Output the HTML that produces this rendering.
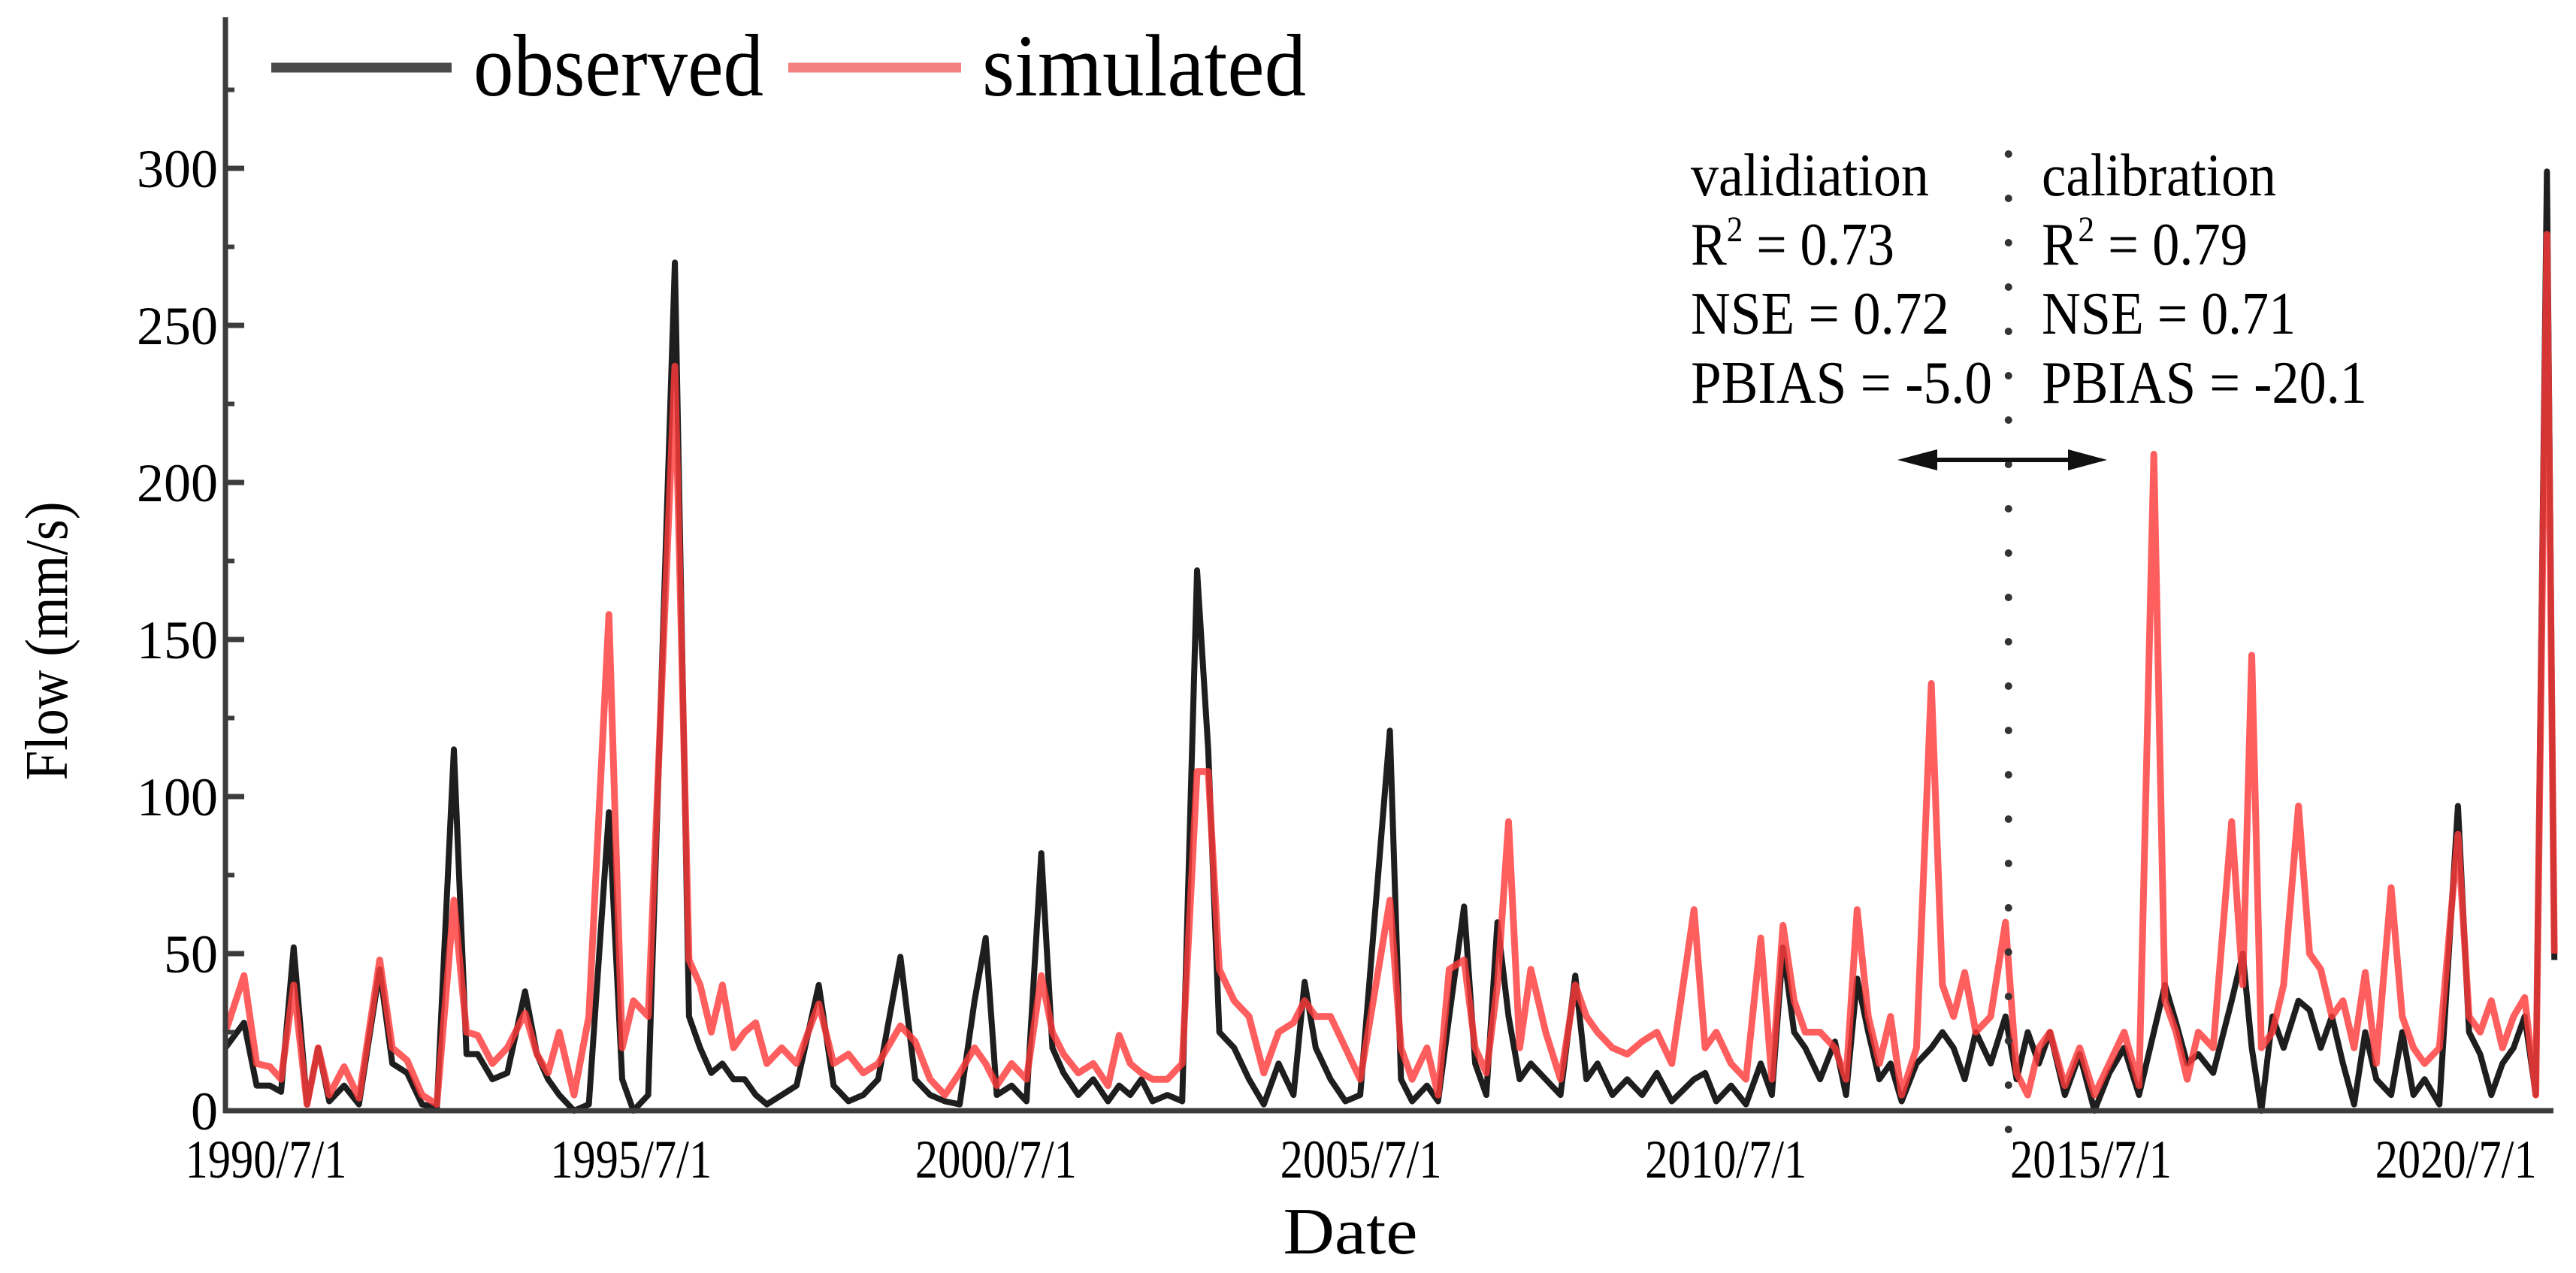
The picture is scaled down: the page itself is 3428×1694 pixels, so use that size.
<!DOCTYPE html>
<html>
<head>
<meta charset="utf-8">
<style>
  html,body{margin:0;padding:0;background:#fff;}
  svg{display:block;}
  text{font-family:"Liberation Serif","Times New Roman",serif;fill:#000;}
</style>
</head>
<body>
<svg id="chart" width="3428" height="1694" viewBox="0 0 3428 1694" xmlns="http://www.w3.org/2000/svg">
  <g id="series"></g>
  <g id="axes"></g>
  <g id="legend">
    <line x1="361" y1="90" x2="601" y2="90" stroke="#4a4a4a" stroke-width="13"/>
    <text x="630" y="127" font-size="118" textLength="386" lengthAdjust="spacingAndGlyphs">observed</text>
    <line x1="1049" y1="90" x2="1279" y2="90" stroke="#f28080" stroke-width="13"/>
    <text x="1307" y="127" font-size="118" textLength="431" lengthAdjust="spacingAndGlyphs">simulated</text>
  </g>
  <g id="annot">
    <text x="2250" y="260" font-size="80" textLength="317" lengthAdjust="spacingAndGlyphs">validiation</text>
    <text x="2250" y="352" font-size="80" textLength="271" lengthAdjust="spacingAndGlyphs">R<tspan font-size="48" dy="-31">2</tspan><tspan dy="31"> = 0.73</tspan></text>
    <text x="2250" y="444" font-size="80" textLength="344" lengthAdjust="spacingAndGlyphs">NSE = 0.72</text>
    <text x="2250" y="536" font-size="80" textLength="401" lengthAdjust="spacingAndGlyphs">PBIAS = -5.0</text>
    <text x="2717" y="260" font-size="80" textLength="312" lengthAdjust="spacingAndGlyphs">calibration</text>
    <text x="2717" y="352" font-size="80" textLength="274" lengthAdjust="spacingAndGlyphs">R<tspan font-size="48" dy="-31">2</tspan><tspan dy="31"> = 0.79</tspan></text>
    <text x="2717" y="444" font-size="80" textLength="338" lengthAdjust="spacingAndGlyphs">NSE = 0.71</text>
    <text x="2717" y="536" font-size="80" textLength="433" lengthAdjust="spacingAndGlyphs">PBIAS = -20.1</text>
    <g id="divider"></g>
    <g>
      <line x1="2560" y1="612" x2="2770" y2="612" stroke="#111" stroke-width="6"/>
      <polygon points="2525,612 2578,598 2578,626" fill="#111"/>
      <polygon points="2804,612 2752,598 2752,626" fill="#111"/>
    </g>
  </g>
  <text x="61" y="853" font-size="80" text-anchor="middle" textLength="371" lengthAdjust="spacingAndGlyphs" transform="rotate(-90 61 853) translate(0 28)">Flow (mm/s)</text>
  <text x="1797" y="1668" font-size="88" text-anchor="middle" textLength="179" lengthAdjust="spacingAndGlyphs">Date</text>
</svg>
<script>
const dates = [1990.5,1990.75,1990.92,1991.1,1991.25,1991.42,1991.6,1991.75,1991.9,1992.1,1992.3,1992.58,1992.75,1992.95,1993.15,1993.35,1993.58,1993.75,1993.9,1994.1,1994.3,1994.54,1994.7,1994.85,1995.0,1995.2,1995.4,1995.67,1995.85,1996.0,1996.2,1996.56,1996.75,1996.9,1997.05,1997.2,1997.35,1997.5,1997.65,1997.8,1998.0,1998.2,1998.5,1998.7,1998.9,1999.1,1999.3,1999.6,1999.8,2000.0,2000.2,2000.4,2000.6,2000.75,2000.9,2001.1,2001.3,2001.5,2001.65,2001.8,2002.0,2002.2,2002.4,2002.55,2002.7,2002.85,2003.0,2003.2,2003.4,2003.6,2003.75,2003.9,2004.1,2004.3,2004.5,2004.7,2004.9,2005.05,2005.2,2005.4,2005.6,2005.8,2006.2,2006.35,2006.5,2006.7,2006.85,2007.0,2007.2,2007.35,2007.5,2007.65,2007.8,2007.95,2008.1,2008.3,2008.5,2008.7,2008.85,2009.0,2009.2,2009.4,2009.6,2009.8,2010.0,2010.3,2010.45,2010.6,2010.8,2011.0,2011.2,2011.35,2011.5,2011.65,2011.8,2012.0,2012.2,2012.35,2012.5,2012.65,2012.8,2012.95,2013.1,2013.3,2013.5,2013.65,2013.8,2013.95,2014.1,2014.3,2014.5,2014.65,2014.8,2014.95,2015.1,2015.3,2015.5,2015.7,2015.9,2016.1,2016.3,2016.5,2016.65,2016.8,2016.95,2017.1,2017.3,2017.55,2017.7,2017.82,2017.95,2018.1,2018.25,2018.45,2018.6,2018.75,2018.9,2019.05,2019.2,2019.35,2019.5,2019.7,2019.85,2020.0,2020.15,2020.35,2020.6,2020.75,2020.9,2021.05,2021.2,2021.35,2021.5,2021.65,2021.8,2021.9];
const observed = [20,28,8,8,6,52,2,20,3,8,2,45,15,12,2,1,115,18,18,10,12,38,18,10,5,0,2,95,10,0,5,270,30,20,12,15,10,10,5,2,5,8,40,8,3,5,10,49,10,5,3,2,35,55,5,8,3,82,20,12,5,10,3,8,5,10,3,5,3,172,115,25,20,10,2,15,5,41,20,10,3,5,121,10,3,8,3,30,65,15,5,60,30,10,15,10,5,43,10,15,5,10,5,12,3,10,12,3,8,2,15,5,52,25,20,10,22,5,42,25,10,15,3,15,20,25,20,10,25,15,30,10,25,15,25,5,18,0,12,20,5,25,40,28,15,18,12,35,50,20,0,30,20,35,32,20,30,15,2,25,10,5,25,5,10,2,97,25,18,5,15,20,30,5,299,48];
const simulated = [25,43,15,14,10,40,2,20,5,14,4,48,20,16,5,2,67,25,24,15,20,31,18,12,25,5,30,158,20,35,30,237,48,40,25,40,20,25,28,15,20,15,34,15,18,12,15,27,22,10,5,12,20,15,8,15,10,43,25,18,12,15,8,24,15,12,10,10,15,108,108,45,35,30,12,25,28,35,30,30,20,10,67,20,10,20,5,45,48,20,12,40,92,20,45,25,10,40,30,25,20,18,22,25,15,64,20,25,15,10,55,10,59,35,25,25,20,10,64,30,15,30,5,20,136,40,30,44,25,30,60,12,5,20,25,8,20,5,15,25,8,209,35,25,10,25,20,92,40,145,20,25,40,97,50,45,30,35,20,44,15,71,30,20,15,20,88,30,25,35,20,30,36,5,279,50];
const yTicks = [0,50,100,150,200,250,300];
const xTickLabels = ["1990/7/1","1995/7/1","2000/7/1","2005/7/1","2010/7/1","2015/7/1","2020/7/1"];
const dividerYear = 2014.54;

const NS = "http://www.w3.org/2000/svg";
const X0 = 300, PXY = 98.7, Y0 = 1478, PXV = 4.18;
function xs(t){ return X0 + (t - 1990.5) * PXY; }
function ys(v){ return Y0 - v * PXV; }
function mk(tag, attrs, parent){
  const el = document.createElementNS(NS, tag);
  for (const k in attrs) el.setAttribute(k, attrs[k]);
  parent.appendChild(el);
  return el;
}
const series = document.getElementById('series');
const axes = document.getElementById('axes');

function linePath(vals){
  return vals.map((v,i)=>(i?'L':'M')+xs(dates[i]).toFixed(1)+','+ys(v).toFixed(1)).join(' ');
}
const obsPath = mk('path', {d: linePath(observed), fill:'none', stroke:'#1e1e1e', 'stroke-width':8, 'stroke-linejoin':'round'}, series);


const simPath = mk('path', {d: linePath(simulated), fill:'none', stroke:'#ff3a3a', 'stroke-opacity':0.82, 'stroke-width':9, 'stroke-linejoin':'round'}, series);



const yAxis = mk('line', {x1:X0, y1:23, x2:X0, y2:Y0+3, stroke:'#3c3c3c', 'stroke-width':7}, axes);


const xAxis = mk('line', {x1:X0-3, y1:Y0, x2:3398, y2:Y0, stroke:'#3c3c3c', 'stroke-width':7}, axes);


for (let v = 25; v <= 325; v += 50) {
  const mt = mk('line', {x1:X0, y1:ys(v), x2:X0+12, y2:ys(v), stroke:'#3c3c3c', 'stroke-width':6}, axes);
  
  
}
yTicks.forEach(v => {
  if (v > 0) {
    const t = mk('line', {x1:X0, y1:ys(v), x2:X0+25, y2:ys(v), stroke:'#3c3c3c', 'stroke-width':7}, axes);
    
    
  }
  const lab = mk('text', {x:290, y:ys(v)+25, 'font-size':72, 'text-anchor':'end'}, axes);
  lab.textContent = String(v);
  
  
});
xTickLabels.forEach((s,i) => {
  const lab = mk('text', {x:354 + i*485.7, y:1567, 'font-size':72, 'text-anchor':'middle', textLength:215, lengthAdjust:'spacingAndGlyphs'}, axes);
  lab.textContent = s;
  
  
});

const div = document.getElementById('divider');
const dx = xs(dividerYear);
for (let y = 205; y <= 1505; y += 59) {
  const d = mk('circle', {cx:dx, cy:y, r:5, fill:'#333'}, div);
  
  
}
</script>
</body>
</html>
